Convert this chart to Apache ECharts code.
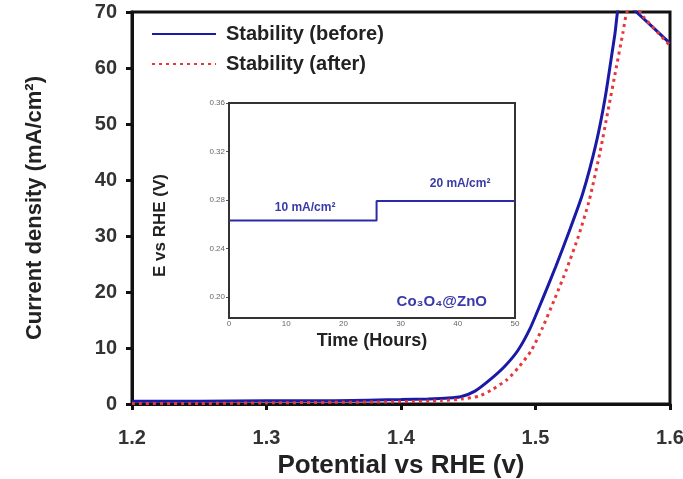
<!DOCTYPE html>
<html>
<head>
<meta charset="utf-8">
<script src="https://cdn.jsdelivr.net/npm/echarts@6/dist/echarts.min.js"></script>
<style>
  html, body { margin: 0; padding: 0; background: #fff; }
  #chart { width: 683px; height: 479px; }
</style>
</head>
<body>
<div id="chart"></div>
<script>
// main plot: polarisation curves (potential V vs RHE, current mA/cm2)
var potBefore = [1.20, 1.25, 1.30, 1.35, 1.40, 1.42, 1.435, 1.445, 1.455, 1.466, 1.477, 1.487, 1.496, 1.505, 1.515, 1.525, 1.535, 1.545, 1.552, 1.559, 1.5635, 1.575, 1.60];
var curBefore = [0.5, 0.5, 0.6, 0.6, 0.8, 0.9, 1.05, 1.35, 2.3, 4.3, 6.7, 9.6, 13.5, 18.6, 24.5, 30.8, 37.5, 46.5, 55, 66, 72.5, 70, 64.4];
var potAfter = [1.20, 1.25, 1.30, 1.35, 1.40, 1.43, 1.445, 1.458, 1.468, 1.4786, 1.488, 1.497, 1.505, 1.514, 1.523, 1.532, 1.540, 1.548, 1.554, 1.560, 1.565, 1.568, 1.5735, 1.58, 1.60];
var curAfter = [0.1, 0.1, 0.2, 0.3, 0.4, 0.6, 0.9, 1.4, 2.6, 4.3, 6.7, 9.6, 13.5, 18.6, 24, 30, 36.4, 45, 52.5, 60, 66.3, 70, 71.5, 69.2, 64];

// inset: chronopotentiometry
var insetTime = [0, 25.8, 25.8, 50];
var insetE = [0.263, 0.263, 0.279, 0.279];
var insetYTicks = [0.20, 0.24, 0.28, 0.32, 0.36];
var insetNotes = [
  { name: '10 mA/cm²', coord: [13.3, 0.2735], size: 12 },
  { name: '20 mA/cm²', coord: [40.4, 0.2933], size: 12 },
  { name: 'Co₃O₄@ZnO', coord: [37.2, 0.196], size: 15 }
];

function pairs(xs, ys) {
  var out = [];
  for (var i = 0; i < xs.length; i++) out.push([xs[i], ys[i]]);
  return out;
}

var font = '"Liberation Sans", Arial, sans-serif';
var chart = echarts.init(document.getElementById('chart'));

var option = {
  animation: false,
  backgroundColor: '#fff',
  textStyle: { fontFamily: font },
  legend: {
    orient: 'vertical',
    left: 146,
    top: 19,
    itemWidth: 64,
    itemHeight: 10,
    itemGap: 10,
    data: ['Stability (before)', 'Stability (after)'],
    itemStyle: { opacity: 0 },
    textStyle: { fontSize: 20, fontWeight: 'bold', color: '#222', fontFamily: font, padding: [0, 0, 0, 5] }
  },
  grid: [
    { left: 132, right: 13, top: 12, bottom: 75, show: true, borderColor: '#111', borderWidth: 3,
      outerBoundsMode: 'none', containLabel: false },
    { left: 229, top: 103, width: 286, height: 215, show: true, borderColor: '#333', borderWidth: 2,
      backgroundColor: '#fff', z: 5, outerBoundsMode: 'none', containLabel: false }
  ],
  xAxis: [
    {
      gridIndex: 0, type: 'value', min: 1.2, max: 1.6, interval: 0.1,
      name: 'Potential vs RHE (v)', nameLocation: 'middle', nameGap: 49,
      nameTextStyle: { fontSize: 26, fontWeight: 'bold', color: '#222', fontFamily: font },
      axisLine: { lineStyle: { color: '#111', width: 3 } },
      axisTick: { inside: false, length: 6, lineStyle: { color: '#111', width: 3 } },
      axisLabel: { margin: 24, fontSize: 20, fontWeight: 'bold', color: '#333', fontFamily: font,
        formatter: function (v) { return v.toFixed(1); } },
      splitLine: { show: false }
    },
    {
      gridIndex: 1, type: 'value', min: 0, max: 50, interval: 10,
      name: 'Time (Hours)', nameLocation: 'middle', nameGap: 14,
      nameTextStyle: { fontSize: 18, fontWeight: 'bold', color: '#222', fontFamily: font, verticalAlign: 'top' },
      axisLine: { lineStyle: { color: '#333', width: 2 } },
      axisTick: { inside: true, length: 3, lineStyle: { color: '#555', width: 1 } },
      axisLabel: { margin: 2, fontSize: 8, color: '#666', fontFamily: font },
      splitLine: { show: false }
    }
  ],
  yAxis: [
    {
      gridIndex: 0, type: 'value', min: 0, max: 70, interval: 10,
      name: 'Current density (mA/cm²)', nameLocation: 'middle', nameGap: 86,
      nameTextStyle: { fontSize: 22, fontWeight: 'bold', color: '#222', fontFamily: font },
      axisLine: { lineStyle: { color: '#111', width: 3 } },
      axisTick: { inside: false, length: 6, lineStyle: { color: '#111', width: 3 } },
      axisLabel: { margin: 15, fontSize: 20, fontWeight: 'bold', color: '#333', fontFamily: font },
      splitLine: { show: false }
    },
    {
      gridIndex: 1, type: 'value', min: 0.1825, max: 0.36,
      name: 'E vs RHE (V)', nameLocation: 'middle', nameGap: 60,
      nameTextStyle: { fontSize: 17, fontWeight: 'bold', color: '#222', fontFamily: font, padding: [0, 30, 0, 0] },
      axisLine: { lineStyle: { color: '#333', width: 2 } },
      axisTick: { length: 3, customValues: insetYTicks, lineStyle: { color: '#555', width: 1 } },
      axisLabel: { margin: 4, fontSize: 8, color: '#666', fontFamily: font, customValues: insetYTicks,
        formatter: function (v) { return v.toFixed(2); } },
      splitLine: { show: false }
    }
  ],
  series: [
    {
      name: 'Stability (before)', type: 'line', xAxisIndex: 0, yAxisIndex: 0,
      data: pairs(potBefore, curBefore), symbol: 'none', smooth: 0.2, clip: true,
      lineStyle: { color: '#1a1aa6', width: 3 }, itemStyle: { color: '#1a1aa6' }
    },
    {
      name: 'Stability (after)', type: 'line', xAxisIndex: 0, yAxisIndex: 0,
      data: pairs(potAfter, curAfter), symbol: 'none', smooth: 0.2, clip: true,
      lineStyle: { color: '#e8373c', width: 3, type: [3, 4] }, itemStyle: { color: '#e8373c' }
    },
    {
      name: 'inset', type: 'line', xAxisIndex: 1, yAxisIndex: 1, z: 6,
      data: pairs(insetTime, insetE), symbol: 'none',
      lineStyle: { color: '#2b2ba3', width: 2 },
      markPoint: {
        symbol: 'circle', symbolSize: 0,
        label: { show: true, position: 'inside', fontWeight: 'bold', color: '#3a3aa8', fontFamily: font,
          formatter: function (p) { return p.name; } },
        data: insetNotes.map(function (n) {
          return { name: n.name, coord: n.coord, label: { fontSize: n.size } };
        })
      }
    }
  ]
};

chart.setOption(option);
</script>
</body>
</html>
